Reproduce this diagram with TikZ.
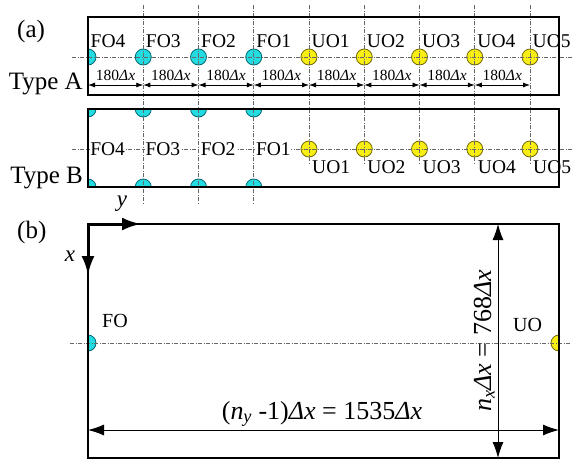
\documentclass[tikz,border=0pt]{standalone}
\usepackage{fontspec}
\setmainfont{Liberation Serif}
\usetikzlibrary{arrows.meta}
\definecolor{cyanf}{RGB}{35,220,225}
\definecolor{cyand}{RGB}{0,105,115}
\definecolor{yelf}{RGB}{248,238,20}
\definecolor{yeld}{RGB}{115,105,0}
\begin{document}
\begin{tikzpicture}[x=1pt,y=-1pt,
 dd/.style={draw=black!60, line width=0.65pt, dash pattern=on 4pt off 1.5pt on 1pt off 1.5pt},
 fo/.style={circle, draw=cyand, fill=cyanf, line width=0.8pt, minimum size=16pt, inner sep=0pt},
 uo/.style={circle, draw=yeld, fill=yelf, line width=0.8pt, minimum size=16pt, inner sep=0pt},
 lbl/.style={font=\fontsize{19.5}{19.5}\selectfont, inner sep=0pt},
 big/.style={font=\fontsize{25}{25}\selectfont, inner sep=0pt},
 dimtxt/.style={font=\fontsize{15.5}{15.5}\selectfont, inner sep=0pt},
 dimA/.style={line width=0.8pt, {Latex[length=7pt,width=5pt]}-{Latex[length=7pt,width=5pt]}},
 dimB/.style={line width=1pt, {Latex[length=16pt,width=11pt]}-{Latex[length=16pt,width=11pt]}},
 axisarrow/.style={line width=3pt, -{Latex[length=19pt,width=13pt]}}
]
\useasboundingbox (0,0) rectangle (572,461);
\fill[white] (0,0) rectangle (572,461);

% ---------- (a) Type A ----------
\begin{scope}
\clip (88,17) rectangle (559,95);
\foreach \i in {0,...,3} \node[fo] (a\i) at ({88+55.25*\i},57) {};
\foreach \i in {4,...,8} \node[uo] (a\i) at ({88+55.25*\i},57) {};
\end{scope}

% ---------- (a) Type B ----------
\begin{scope}
\clip (88,109) rectangle (559,187);
\foreach \i in {0,...,3} {
  \node[fo] (bt\i) at ({88+55.25*\i},109) {};
  \node[fo] (bb\i) at ({88+55.25*\i},187) {};
}
\foreach \i in {4,...,8} \node[uo] (b\i) at ({88+55.25*\i},149) {};
\end{scope}

% dash-dot centre lines
\foreach \i in {1,...,3} \draw[dd] ({88+55.25*\i},5) -- ({88+55.25*\i},203);
\foreach \i in {4,...,8} \draw[dd] ({88+55.25*\i},5) -- ({88+55.25*\i},165);
\draw[dd] (72,57) -- (572,57);
\draw[dd] (72,149) -- (572,149);

% boxes
\draw[line width=1.9pt] (88,17) rectangle (559,95);
\draw[line width=1.3pt] (88,109) rectangle (559,187);

% labels Type A
\foreach \i/\t in {0/FO4,1/FO3,2/FO2,3/FO1,4/UO1,5/UO2,6/UO3,7/UO4,8/UO5}
  \node[lbl, anchor=base west] (la\i) at ({88+55.25*\i+2.5},47) {\t};
% dimension arrows Type A
\foreach \i in {0,...,8} \coordinate (d\i) at ({88+55.25*\i},85);
\foreach \i [evaluate=\i as \j using int(\i+1)] in {0,...,7} {
  \draw[dimA] (d\i) -- (d\j);
  \node[dimtxt, anchor=base] (t\i) at ({88+55.25*\i+27.6},80) {180\textit{Δx}};
}
% labels Type B
\foreach \i/\t in {0/FO4,1/FO3,2/FO2,3/FO1}
  \node[lbl, anchor=west, fill=white, inner sep=0.6pt] (lb\i) at ({88+55.25*\i+1.5},149) {\t};
\foreach \i/\t in {4/UO1,5/UO2,6/UO3,7/UO4,8/UO5}
  \node[lbl, anchor=base west] (lb\i) at ({88+55.25*\i+3},173) {\t};

\node[big, anchor=base west] (la) at (17,37) {(a)};
\node[big, anchor=base east] (ta) at (83,89) {Type A};
\node[big, anchor=base east] (tb) at (83,183) {Type B};

% ---------- (b) ----------
\begin{scope}
\clip (88,224) rectangle (559,458);
\node[fo] (fo) at (88,343) {};
\node[uo] (uo) at (559,343) {};
\end{scope}
\draw[dd] (70,343) -- (572,343);
\draw[line width=1.2pt] (88,224) rectangle (559,458);

\coordinate (o) at (88,224);
\coordinate (ay) at (141,224);
\coordinate (ax) at (88,275);
\draw[axisarrow] (o) -- (ay);
\draw[axisarrow] (o) -- (ax);
\node[big, font=\fontsize{23}{23}\selectfont\itshape] (ylab) at (122,204) {y};
\node[big, font=\fontsize{23}{23}\selectfont\itshape] (xlab) at (70,256) {x};

\node[big, anchor=base west] (lbb) at (17,238) {(b)};
\node[lbl, font=\fontsize{20}{20}\selectfont, anchor=base west] (folab) at (102,327) {FO};
\node[lbl, font=\fontsize{20}{20}\selectfont, anchor=base west] (uolab) at (513,331) {UO};

\coordinate (h1) at (88,430);
\coordinate (h2) at (559,430);
\coordinate (v1) at (498,224);
\coordinate (v2) at (498,458);
\draw[dimB] (h1) -- (h2);
\draw[dimB] (v1) -- (v2);
\node[big, font=\fontsize{26}{26}\selectfont, anchor=base] (hlab) at (322,419)
  {(\textit{n}\textsubscript{\textit{y}} -1)\textit{Δx} = 1535\textit{Δx}};
\node[big, font=\fontsize{26}{26}\selectfont, anchor=base, rotate=90] (vlab) at (491,341)
  {\textit{n}\textsubscript{\textit{x}}\textit{Δx} = 768\textit{Δx}};
\end{tikzpicture}
\end{document}
